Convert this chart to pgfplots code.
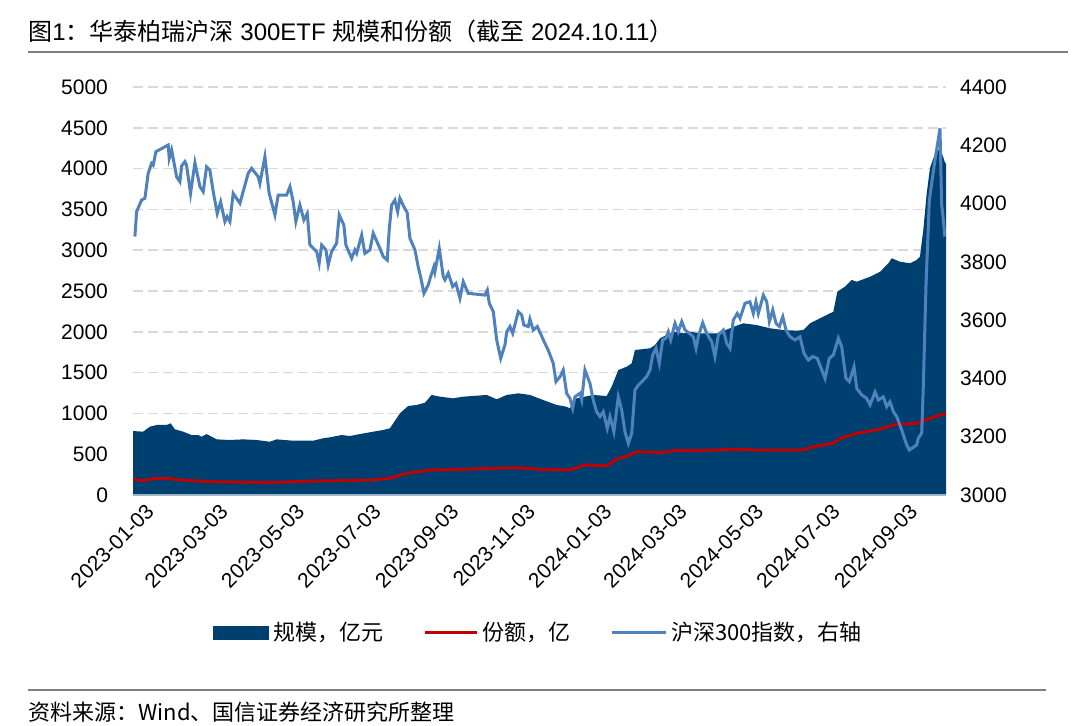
\documentclass[border=0pt]{standalone}
\usepackage{fontspec}
\setmainfont{Liberation Sans}
\newfontfamily\cjk{Noto Sans CJK SC}
\usepackage{pgfplots}
\pgfplotsset{compat=1.18}
\usepackage{pgfplotstable}

\definecolor{navy}{RGB}{0,64,112}
\definecolor{idxblue}{RGB}{79,129,189}
\definecolor{shred}{RGB}{192,0,0}
\definecolor{gridgray}{RGB}{217,217,217}
\definecolor{rulegray}{RGB}{128,128,128}
\definecolor{axisblue}{RGB}{160,180,200}

% x = calendar days since 2023-01-03
\pgfplotstableread{
d v
-1.5 784
6.6 776
12 837
17.3 858
25.3 858
28.5 879
31.9 805
38.5 776
45.2 735
50.5 735
53.2 714
57.2 747
65.2 682
75.8 674
86.4 682
97.1 674
107.7 653
113 682
126.3 665
142.2 665
150.2 695
155.6 707
164.9 735
171.5 723
179.5 747
190.1 776
198.1 797
203.4 817
211.4 1001
218 1091
224.7 1103
231.4 1131
236.7 1226
243.3 1205
253.9 1185
261.9 1205
280.6 1226
288.6 1173
296.6 1226
305.8 1246
315.1 1226
325.7 1164
336.4 1103
344.4 1082
347 1062
351 1180
365.6 1226
376.3 1213
380.3 1327
385.6 1532
392.3 1572
396.3 1613
398.9 1777
410.9 1798
414.9 1838
418.8 1920
429.5 2001
437.4 1981
442.8 2001
450.7 1981
464.1 1981
474.7 2043
481.3 2083
485.3 2104
496 2083
506.6 2043
517.2 2022
527.9 2014
533.2 2022
538.5 2104
549.1 2185
557.1 2246
560.3 2491
566.4 2553
571.8 2635
575.8 2614
586.4 2675
594.4 2736
601 2840
603.7 2901
610.3 2859
618.3 2840
623.6 2880
626.2 2920
628.9 3248
631.6 3697
634.2 4004
636.5 4110
639 4200
642 4240
644.6 4150
646 4080
647 4060
}\scaletable

\pgfplotstableread{
d v
-1.5 192
6.6 175
14.6 200
27.9 200
35.9 184
62.5 163
102.4 155
110.3 151
123.7 163
145 172
162.2 175
187.5 184
203.4 204
216.8 266
236.7 306
261.9 315
288.6 327
304.5 335
323.1 315
347 306
359 368
376.3 355
383 429
394.9 490
400.2 531
421.5 518
429.4 543
453.4 543
474.7 560
482.7 560
493.3 551
531.9 551
543.9 600
557.1 633
562.4 695
575.8 756
591.7 797
605 858
623.6 879
634.2 940
647 1001
}\sharetable

\pgfplotstableread{
d v
0 3887
1.4 3972
5.3 4012
8 4018
10.6 4104
13.3 4138
14.6 4132
16.8 4178
26.6 4201
27.4 4155
29.3 4184
33.3 4092
35.9 4075
37.3 4129
39.9 4144
41.2 4132
44.4 4035
47.9 4140
51.9 4058
54.5 4041
57.2 4126
59.8 4115
62.5 4041
65.7 3966
68.4 4006
71.8 3938
73.6 3955
75.8 3938
78.4 4035
83.8 4001
90.4 4104
93.1 4121
98.4 4092
99.7 4069
103.7 4161
107.1 4035
111.7 3961
114.3 4029
121 4029
123.7 4058
126.3 4006
128.4 3938
131.6 3995
134.8 3944
137.5 3966
139.6 3858
145 3835
147 3795
149 3858
152.4 3841
154.2 3789
156.9 3835
160.9 3864
163 3961
166.7 3926
168.3 3858
172.9 3812
175.5 3841
176.9 3829
180.9 3892
183.5 3829
187.5 3841
190.1 3898
195.5 3846
198.1 3818
201.3 3806
202.9 3912
204.8 3995
207.4 4012
209.6 3972
211.4 4018
214.6 3989
217.2 3969
219.4 3881
223.4 3841
226 3783
227.9 3749
230.6 3692
234 3721
235.9 3749
238.5 3783
239.3 3766
242.8 3846
246 3749
247.3 3738
250 3761
253.5 3715
256.1 3726
259.3 3675
261.9 3732
265.9 3692
279.2 3686
281.1 3703
282.7 3658
285.9 3629
288.6 3532
291.8 3469
295.2 3515
296.6 3560
299.2 3578
301.4 3555
305.8 3629
308.5 3618
310.3 3583
313.8 3578
315.1 3604
317.8 3566
321 3578
327.1 3520
329.7 3497
333.7 3452
335.9 3389
339.1 3406
341.7 3429
344.4 3349
347 3332
349.2 3297
351 3337
355 3349
356.4 3326
359 3429
363 3383
365.6 3326
368.3 3286
371 3269
373.6 3286
376.8 3229
379 3269
382.1 3217
385.6 3337
388.3 3292
390.9 3217
393.6 3177
396.3 3212
398.9 3360
401.6 3377
408.2 3406
410.9 3429
413 3480
415.7 3503
418.3 3452
421 3532
423.6 3538
425.5 3560
427.4 3532
430.8 3589
433.4 3560
436.2 3595
438.8 3566
442.2 3555
445.4 3543
447.6 3503
449.4 3543
452.9 3591
456.1 3555
460.1 3526
462.7 3475
465.4 3549
469.4 3566
472.1 3520
474.7 3503
477.3 3600
480.5 3623
482.7 3606
486.7 3658
490.6 3663
493.3 3623
495.4 3663
497.3 3623
501.3 3686
504 3663
506.1 3595
508.8 3635
511.4 3589
514.1 3578
516.8 3612
519.4 3566
522.6 3543
526.6 3532
530.5 3543
533.7 3486
537.2 3463
540.7 3475
544.3 3469
550.5 3400
553.9 3469
557.1 3480
561.1 3538
563.8 3509
567.2 3400
569.9 3389
573.6 3440
575.8 3366
579.8 3343
583.7 3332
586.4 3309
590.4 3354
593 3326
597 3337
599.7 3303
602.3 3320
605 3286
607.7 3269
611.7 3223
615.6 3172
617.7 3154
623.6 3172
624.9 3195
627.6 3212
628.9 3372
631 3715
633.7 4012
638.2 4149
642.2 4258
643.5 3997
644.5 3960
646 3887
}\indextable

\begin{document}
\begin{tikzpicture}
\useasboundingbox (0,0) rectangle (540pt,-363pt);
\node[anchor=west, inner sep=0pt, font=\fontsize{12}{14}\selectfont] at (14pt,-15.5pt)
  {{\cjk 图}1{\cjk ：华泰柏瑞沪深} 300ETF {\cjk 规模和份额（截至} 2024.10.11{\cjk ）}};
\draw[rulegray, line width=1pt] (14pt,-26pt) -- (534pt,-26pt);

\begin{axis}[
  at={(66.5pt,-247.5pt)}, anchor=south west,
  scale only axis, width=406.5pt, height=204pt,
  xmin=-1.5, xmax=647, ymin=0, ymax=5000,
  ytick={0,500,...,5000},
  axis y line*=left, axis x line*=bottom,
  y axis line style={draw=none,-}, x axis line style={draw=none,-},
  major tick length=0pt,
  ymajorgrids,
  grid style={gridgray, line width=0.75pt, dash pattern=on 5pt off 2.5pt},
  xtick={0,59,120,181,243,304,365,425,486,547,609},
  xticklabels={2023-01-03,2023-03-03,2023-05-03,2023-07-03,2023-09-03,2023-11-03,2024-01-03,2024-03-03,2024-05-03,2024-07-03,2024-09-03},
  tick label style={font=\fontsize{10.5}{12}\selectfont},
  /pgf/number format/assume math mode=true,
  /pgf/number format/1000 sep={},
  yticklabel style={anchor=east, xshift=-9pt},
  xticklabel style={rotate=45, anchor=east, inner sep=0pt, xshift=1pt, yshift=-10pt},
]
\addplot[fill=navy, draw=none] table[x=d, y=v] {\scaletable} \closedcycle;
\addplot[shred, line width=1.5pt] table[x=d, y=v] {\sharetable};
\end{axis}

\begin{axis}[
  at={(66.5pt,-247.5pt)}, anchor=south west,
  scale only axis, width=406.5pt, height=204pt,
  xmin=-1.5, xmax=647, ymin=3000, ymax=4400,
  ytick={3000,3200,...,4400},
  axis y line*=right, axis x line*=bottom,
  y axis line style={draw=none,-},
  x axis line style={axisblue, line width=1pt, -},
  xtick=\empty,
  major tick length=0pt,
  tick label style={font=\fontsize{10.5}{12}\selectfont},
  /pgf/number format/assume math mode=true,
  /pgf/number format/1000 sep={},
  yticklabel style={anchor=west, xshift=3.5pt},
  legend style={at={(0.5,-0.338)}, anchor=center, draw=none, fill=none,
    font=\cjk\fontsize{11}{13}\selectfont, legend columns=3,
    /tikz/every even column/.append style={column sep=18pt}},
  legend cell align=left,
]
\addlegendimage{legend image code/.code={\fill[navy] (0pt,-3.25pt) rectangle (27.5pt,3.25pt);}}
\addlegendentry{规模，亿元}
\addlegendimage{legend image code/.code={\draw[shred, line width=1.5pt] (0pt,0pt) -- (26pt,0pt);}}
\addlegendentry{份额，亿}
\addlegendimage{legend image code/.code={\draw[idxblue, line width=1.5pt] (0pt,0pt) -- (27pt,0pt);}}
\addlegendentry{沪深300指数，右轴}
\addplot[idxblue, line width=1.5pt, forget plot] table[x=d, y=v] {\indextable};
\end{axis}

\draw[rulegray, line width=1pt] (14pt,-345pt) -- (523pt,-345pt);
\node[anchor=west, inner sep=0pt, font=\cjk\fontsize{11}{13}\selectfont] at (14pt,-356pt)
  {资料来源：Wind、国信证券经济研究所整理};
\end{tikzpicture}
\end{document}
